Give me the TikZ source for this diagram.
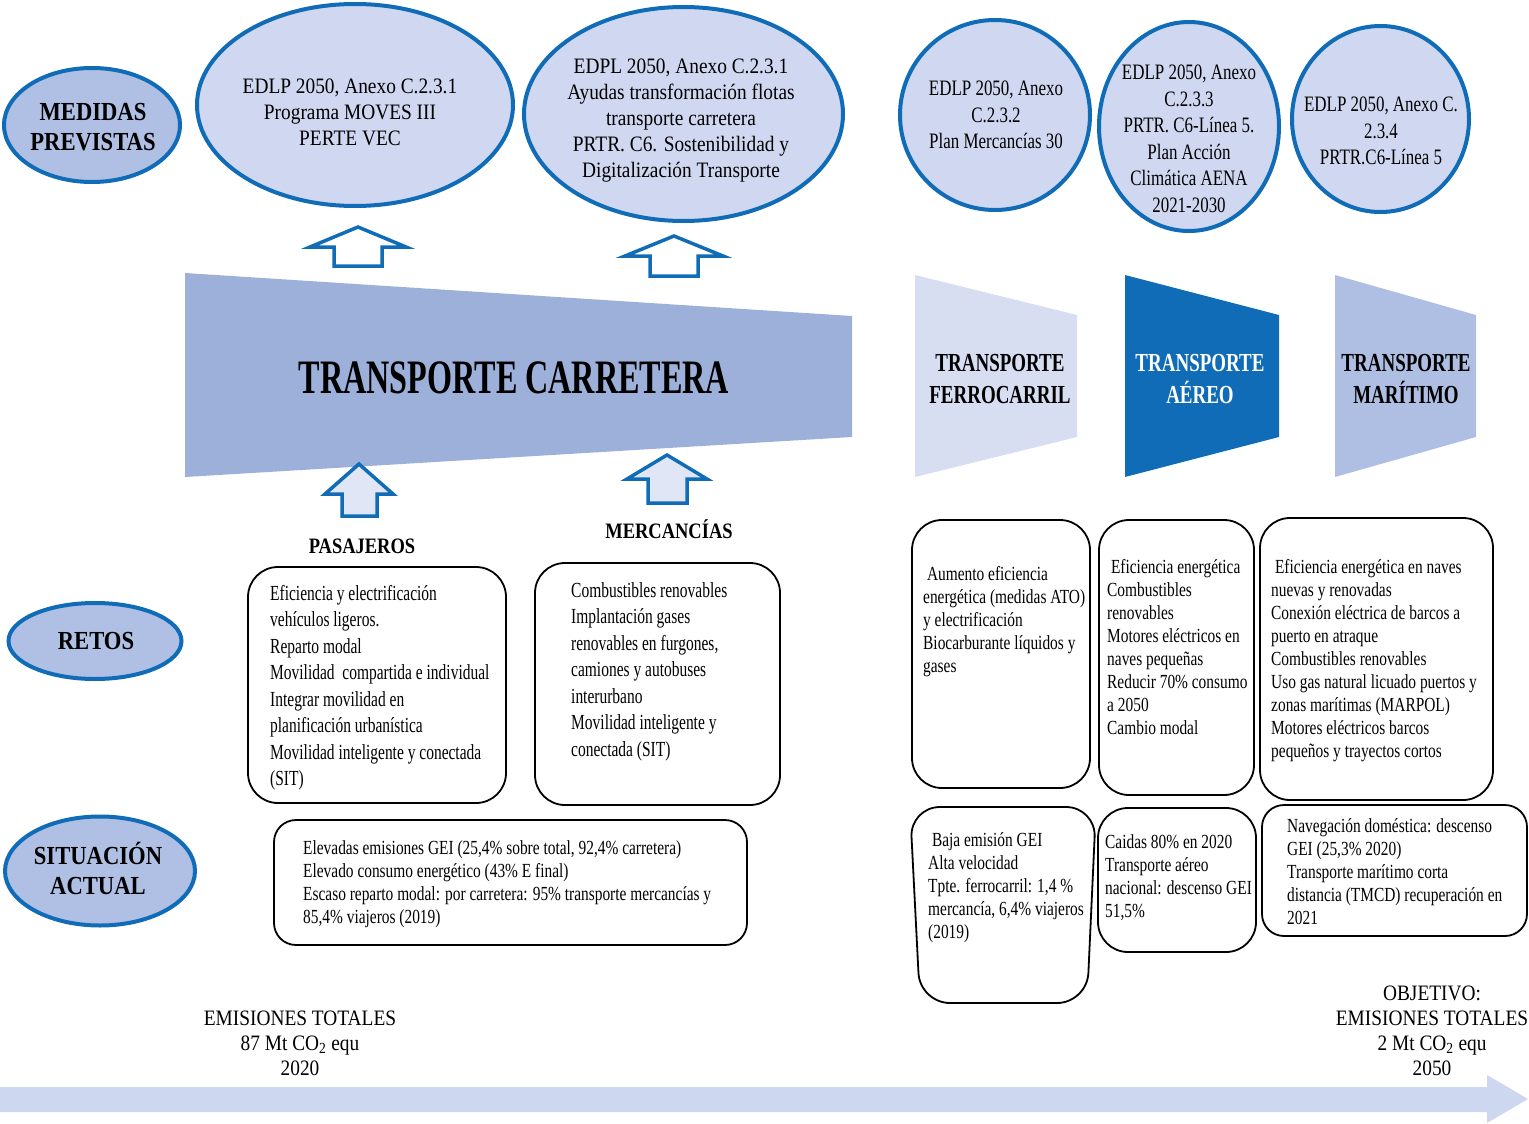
\documentclass[tikz,border=0pt]{standalone}
\usepackage{fontspec}
\setmainfont{Liberation Serif}
\newfontfamily\ellfont[FakeStretch=0.88]{Liberation Serif}
\newfontfamily\cirfont[FakeStretch=0.77]{Liberation Serif}
\newfontfamily\retfont[FakeStretch=0.72]{Liberation Serif}
\newfontfamily\sitfont[FakeStretch=0.77]{Liberation Serif}
\newfontfamily\titfont[FakeStretch=0.87]{Liberation Serif}
\newfontfamily\subfont[FakeStretch=0.84]{Liberation Serif}
\newfontfamily\trafont[FakeStretch=0.73]{Liberation Serif}
\newfontfamily\carfont[FakeStretch=0.67]{Liberation Serif}
\usetikzlibrary{shapes.geometric}

\definecolor{azul}{RGB}{16,108,182}
\definecolor{medio}{RGB}{175,192,228}
\definecolor{claro}{RGB}{207,216,240}
\definecolor{carretera}{RGB}{157,176,218}
\definecolor{ferro}{RGB}{216,222,242}
\definecolor{maritimo}{RGB}{175,191,227}
\definecolor{flecha}{RGB}{224,230,245}
\definecolor{banda}{RGB}{206,215,240}

\tikzset{
  lado/.style={ellipse, draw=azul, line width=4pt, fill=medio, inner sep=0pt},
  medida/.style={ellipse, draw=azul, line width=4pt, fill=claro, inner sep=0pt},
  titulo/.style={align=center, inner sep=0pt, font=\titfont\bfseries\fontsize{26}{30}\selectfont},
  ellt/.style={align=center, inner sep=0pt, font=\ellfont\fontsize{22}{26}\selectfont},
  cirt/.style={align=center, inner sep=0pt, font=\cirfont\fontsize{22}{26.5}\selectfont},
  tramo/.style={align=center, inner sep=0pt, font=\trafont\bfseries\fontsize{26}{32}\selectfont},
  grupo/.style={inner sep=0pt, font=\subfont\bfseries\fontsize{22}{26}\selectfont},
  caja/.style={draw=black, line width=1.8pt, rounded corners=30pt},
  retot/.style={anchor=north west, align=left, inner sep=0pt, font=\retfont\fontsize{21.5}{26.5}\selectfont},
  sitt/.style={anchor=north west, align=left, inner sep=0pt, font=\sitfont\fontsize{20}{23}\selectfont},
  hueca/.style={draw=azul, line width=3.5pt, fill=white, line join=miter},
  llena/.style={draw=azul, line width=3.5pt, fill=flecha, line join=miter}
}

\begin{document}
\begin{tikzpicture}[x=1pt,y=-1pt]
\useasboundingbox (0,0) rectangle (1529,1124);

% etiquetas de la izquierda
\node[lado, minimum width=176, minimum height=114] (medidas) at (92,125) {};
\node[titulo] (medidas-t) at (93,127) {MEDIDAS\\PREVISTAS};
\node[lado, minimum width=173, minimum height=76] (retos) at (95,641) {};
\node[titulo] (retos-t) at (96,641) {RETOS};
\node[lado, minimum width=190, minimum height=109] (situacion) at (100,871) {};
\node[titulo] (situacion-t) at (98,868) {SITUACIÓN\\ACTUAL};

% medidas previstas
\node[medida, minimum width=316, minimum height=202] (ed1) at (355,105) {};
\node[ellt] (ed1-t) at (350,112) {EDLP 2050, Anexo C.2.3.1\\Programa MOVES III\\PERTE VEC};
\node[medida, minimum width=319, minimum height=214] (ed2) at (683.5,114) {};
\node[ellt] (ed2-t) at (681,121) {EDPL 2050, Anexo C.2.3.1\\Ayudas transformación flotas\\transporte carretera\\PRTR. C6. Sostenibilidad y\\Digitalización Transporte};
\node[medida, minimum width=190, minimum height=190] (ed3) at (995,115) {};
\node[cirt] (ed3-t) at (996,115) {EDLP 2050, Anexo\\C.2.3.2\\Plan Mercancías 30};
\node[medida, minimum width=180, minimum height=209] (ed4) at (1189,126.5) {};
\node[cirt] (ed4-t) at (1189,139) {EDLP 2050, Anexo\\C.2.3.3\\PRTR. C6-Línea 5.\\Plan Acción\\Climática AENA\\2021-2030};
\node[medida, minimum width=177, minimum height=186] (ed5) at (1380.5,119) {};
\node[cirt] (ed5-t) at (1381,131) {EDLP 2050, Anexo C.\\2.3.4\\PRTR.C6-Línea 5};

% flechas hacia las medidas
\draw[hueca] (358,227) -- (406,247) -- (382,247) -- (382,266) -- (334,266) -- (334,247) -- (310,247) -- cycle;
\draw[hueca] (674,236) -- (723,256) -- (698,256) -- (698,276) -- (650,276) -- (650,256) -- (625,256) -- cycle;

% modos de transporte
\fill[carretera] (185,273) -- (852,316) -- (852,437) -- (185,477) -- cycle;
\node[inner sep=0pt, font=\carfont\bfseries\fontsize{48}{52}\selectfont] (carretera) at (514,378) {TRANSPORTE CARRETERA};
\fill[ferro] (915,275) -- (1077,315) -- (1077,437) -- (915,477) -- cycle;
\node[tramo] (ferro-t) at (1000,379) {TRANSPORTE\\FERROCARRIL};
\fill[azul] (1125,275) -- (1279,315) -- (1279,437) -- (1125,477) -- cycle;
\node[tramo, text=white] (aereo-t) at (1200,379) {TRANSPORTE\\AÉREO};
\fill[maritimo] (1335,275) -- (1476,315) -- (1476,437) -- (1335,477) -- cycle;
\node[tramo] (maritimo-t) at (1406,379) {TRANSPORTE\\MARÍTIMO};

% pasajeros y mercancias
\draw[llena] (359,464) -- (393,494) -- (377,494) -- (377,516) -- (342,516) -- (342,494) -- (325,494) -- cycle;
\draw[llena] (667,455) -- (707,479) -- (687,479) -- (687,503) -- (648,503) -- (648,479) -- (627,479) -- cycle;
\node[grupo] (pasajeros) at (362,546) {PASAJEROS};
\node[grupo] (mercancias) at (669,529) {MERCANCÍAS};

% retos
\draw[caja] (248,567) rectangle (506,803);
\node[retot] (reto-pas) at (270,585) {Eficiencia y electrificación\\vehículos ligeros.\\Reparto modal\\Movilidad\ \ compartida e individual\\Integrar movilidad en\\planificación urbanística\\Movilidad inteligente y conectada\\(SIT)};
\draw[caja] (535,563) rectangle (780,805);
\node[retot] (reto-mer) at (571,582) {Combustibles renovables\\Implantación gases\\renovables en furgones,\\camiones y autobuses\\interurbano\\Movilidad inteligente y\\conectada (SIT)};
\draw[caja] (912,520) rectangle (1090,788);
\node[sitt] (reto-fer) at (923,566) {\ Aumento eficiencia\\energética (medidas ATO)\\y electrificación\\Biocarburante líquidos y\\gases};
\draw[caja] (1099,520) rectangle (1254,795);
\node[sitt] (reto-aer) at (1107,559) {\ Eficiencia energética\\Combustibles\\renovables\\Motores eléctricos en\\naves pequeñas\\Reducir 70\% consumo\\a 2050\\Cambio modal};
\draw[caja] (1260,518) rectangle (1493,800);
\node[sitt] (reto-mar) at (1271,559) {\ Eficiencia energética en naves\\nuevas y renovadas\\Conexión eléctrica de barcos a\\puerto en atraque\\Combustibles renovables\\Uso gas natural licuado puertos y\\zonas marítimas (MARPOL)\\Motores eléctricos barcos\\pequeños y trayectos cortos};

% situacion actual
\draw[caja, rounded corners=22pt] (274,820) rectangle (747,945);
\node[sitt] (sit-car) at (303,840) {Elevadas emisiones GEI (25,4\% sobre total, 92,4\% carretera)\\Elevado consumo energético (43\% E final)\\Escaso reparto modal: por carretera: 95\% transporte mercancías y\\85,4\% viajeros (2019)};
\draw[caja] (910,807) -- (1096,807) -- (1087,1003) -- (920,1003) -- cycle;
\node[sitt] (sit-fer) at (928,832) {\ Baja emisión GEI\\Alta velocidad\\Tpte. ferrocarril: 1,4 \%\\mercancía, 6,4\% viajeros\\(2019)};
\draw[caja] (1098,808) rectangle (1256,952);
\node[sitt] (sit-aer) at (1105,834) {Caidas 80\% en 2020\\Transporte aéreo\\nacional: descenso GEI\\51,5\%};
\draw[caja, rounded corners=22pt] (1262,805) rectangle (1527,936);
\node[sitt] (sit-mar) at (1287,818) {Navegación doméstica: descenso\\GEI (25,3\% 2020)\\Transporte marítimo corta\\distancia (TMCD) recuperación en\\2021};

% emisiones
\fill[banda] (0,1087) -- (1487,1087) -- (1487,1075) -- (1528,1099) -- (1487,1123) -- (1487,1112) -- (0,1112) -- cycle;
\node[ellt, font=\ellfont\fontsize{22}{25}\selectfont] (em2020) at (300,1043) {EMISIONES TOTALES\\87 Mt CO\textsubscript{2} equ\\2020};
\node[ellt, font=\ellfont\fontsize{22}{25}\selectfont] (em2050) at (1432,1031) {OBJETIVO:\\EMISIONES TOTALES\\2 Mt CO\textsubscript{2} equ\\2050};
\end{tikzpicture}
\end{document}
